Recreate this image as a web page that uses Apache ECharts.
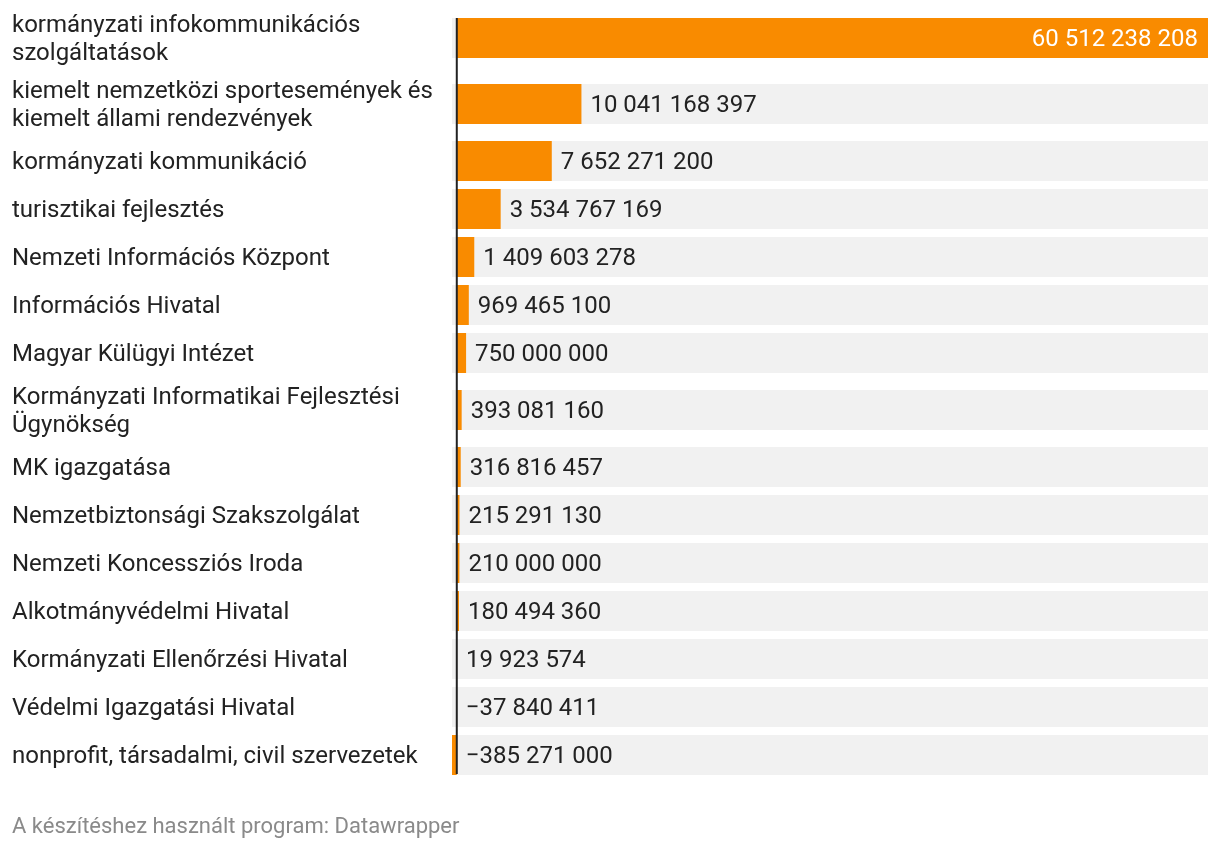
<!DOCTYPE html>
<html>
<head>
<meta charset="utf-8">
<script src="https://cdn.jsdelivr.net/npm/echarts@6/dist/echarts.min.js"></script>
<style>
  html, body { margin: 0; padding: 0; background: #fff; }
  #chart { width: 1220px; height: 852px; }
</style>
</head>
<body>
<div id="chart"></div>
<script>
// kategóriák (a sortörés a címke tördelését jelzi)
var categories = [
    'kormányzati infokommunikációs\nszolgáltatások',
    'kiemelt nemzetközi sportesemények és\nkiemelt állami rendezvények',
    'kormányzati kommunikáció',
    'turisztikai fejlesztés',
    'Nemzeti Információs Központ',
    'Információs Hivatal',
    'Magyar Külügyi Intézet',
    'Kormányzati Informatikai Fejlesztési\nÜgynökség',
    'MK igazgatása',
    'Nemzetbiztonsági Szakszolgálat',
    'Nemzeti Koncessziós Iroda',
    'Alkotmányvédelmi Hivatal',
    'Kormányzati Ellenőrzési Hivatal',
    'Védelmi Igazgatási Hivatal',
    'nonprofit, társadalmi, civil szervezetek'
];

var values = [
    60512238208,
    10041168397,
    7652271200,
    3534767169,
    1409603278,
    969465100,
    750000000,
    393081160,
    316816457,
    215291130,
    210000000,
    180494360,
    19923574,
    -37840411,
    -385271000
];

var footer = 'A készítéshez használt program: Datawrapper';

var FONT = 'Roboto, "Noto Sans", sans-serif';
var ORANGE = '#f98b00';

// sorok elhelyezése: kétsoros címkéhez magasabb sor
var rowTop = 5;
var rowCenters = [];
(function () {
    var y = rowTop;
    categories.forEach(function (c) {
        var h = c.indexOf('\n') >= 0 ? 66 : 48;
        rowCenters.push(y + h / 2);
        y += h;
    });
})();

function fmt(v) {
    var s = Math.abs(v).toString().replace(/\B(?=(\d{3})+(?!\d))/g, ' ');
    return (v < 0 ? '\u2212' : '') + s;
}

var xMin = Math.min(0, Math.min.apply(null, values));
var xMax = Math.max.apply(null, values);

var chartDom = document.getElementById('chart');
var chart = echarts.init(chartDom);

function renderRow(params, api) {
    var i = params.dataIndex;
    var v = api.value(0);
    var cs = params.coordSys;
    var yc = rowCenters[i];
    var x0 = api.coord([0, i])[0];
    var xv = api.coord([v, i])[0];
    var barH = 40;
    var inside = (xv - x0) > cs.width * 0.75;
    var children = [
        {
            type: 'rect',
            shape: { x: cs.x, y: yc - barH / 2, width: cs.width, height: barH },
            style: { fill: '#f1f1f1' }
        },
        {
            type: 'rect',
            shape: { x: Math.min(x0, xv), y: yc - barH / 2, width: Math.abs(xv - x0), height: barH },
            style: { fill: ORANGE }
        },
        {
            type: 'text',
            x: 12,
            y: yc + 1.5,
            style: {
                text: categories[i],
                font: '24px ' + FONT,
                fill: '#222',
                verticalAlign: 'middle',
                align: 'left',
                lineHeight: 28
            }
        },
        {
            type: 'text',
            x: inside ? xv - 10 : Math.max(x0, xv) + 9,
            y: yc + 1.5,
            style: {
                text: fmt(v),
                font: '24px ' + FONT,
                fill: inside ? '#fff' : '#222',
                verticalAlign: 'middle',
                align: inside ? 'right' : 'left'
            }
        }
    ];
    return { type: 'group', children: children };
}

function renderZero(params, api) {
    var cs = params.coordSys;
    var x0 = api.coord([0, 0])[0];
    return {
        type: 'line',
        shape: { x1: x0, y1: cs.y, x2: x0, y2: cs.y + cs.height },
        style: { stroke: '#222', lineWidth: 2 }
    };
}

var option = {
    animation: false,
    backgroundColor: '#fff',
    title: {
        text: footer,
        left: 12,
        top: 816,
        padding: 0,
        textStyle: { fontFamily: FONT, fontSize: 22, fontWeight: 'normal', color: '#8a8a8a' }
    },
    grid: { left: 452, right: 12, top: 18, bottom: 78 },
    xAxis: {
        type: 'value',
        min: xMin,
        max: xMax,
        show: false
    },
    yAxis: {
        type: 'category',
        data: categories,
        show: false
    },
    series: [
        {
            type: 'custom',
            name: 'rows',
            renderItem: renderRow,
            encode: { x: 0, y: 1 },
            data: values.map(function (v, i) { return [v, i]; }),
            z: 2
        },
        {
            type: 'custom',
            name: 'zero',
            renderItem: renderZero,
            encode: { x: 0, y: 1 },
            data: [[0, 0]],
            z: 3
        }
    ]
};

chart.setOption(option);
</script>
</body>
</html>
